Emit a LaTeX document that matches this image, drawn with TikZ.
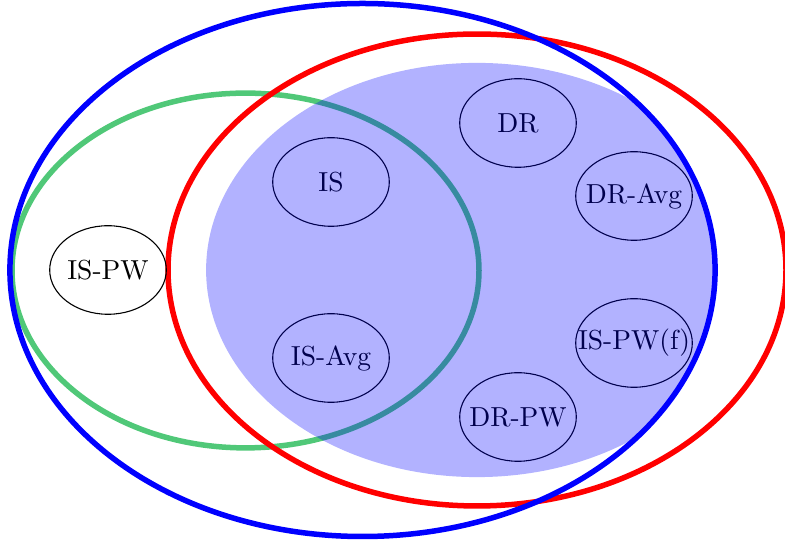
\documentclass[tikz,border=0pt]{standalone}
\usetikzlibrary{shapes.geometric}
\definecolor{emerald}{RGB}{80,200,120}
\begin{document}
\begin{tikzpicture}[x=0.3636pt,y=-0.3636pt,
  elem/.style={inner sep=0pt},
  ring/.style={draw, thin},
  setline/.style={line width=2pt}]
\useasboundingbox (0,0) rectangle (785,546);
% green set
\draw[setline, emerald] (245.5,270.5) ellipse [x radius=84.9pt, y radius=64.5pt];
% red set
\draw[setline, red] (477,270) ellipse [x radius=112.35pt, y radius=85.8pt];
% elements
\node[elem] (ispw) at (108,270) {IS-PW};
\node[elem] (is) at (331,182) {IS};
\node[elem] (isavg) at (331,358) {IS-Avg};
\node[elem] (dr) at (518,123) {DR};
\node[elem] (drpw) at (518,417) {DR-PW};
\node[elem] (dravg) at (634,196) {DR-Avg};
\node[elem] (ispwf) at (634,343) {IS-PW(f)};
\foreach \n in {ispw,is,isavg,dr,drpw,dravg,ispwf}
  \draw[ring] (\n.center) ellipse [x radius=21.2pt, y radius=16.1pt];
% shaded region
\begin{scope}
  \clip (362.5,270) ellipse [x radius=128.2pt, y radius=96.9pt];
  \fill[blue, opacity=0.3] (477,270) ellipse [x radius=98.5pt, y radius=75.3pt];
\end{scope}
% blue set
\draw[setline, blue] (362.5,270) ellipse [x radius=128.2pt, y radius=96.9pt];
\end{tikzpicture}
\end{document}
